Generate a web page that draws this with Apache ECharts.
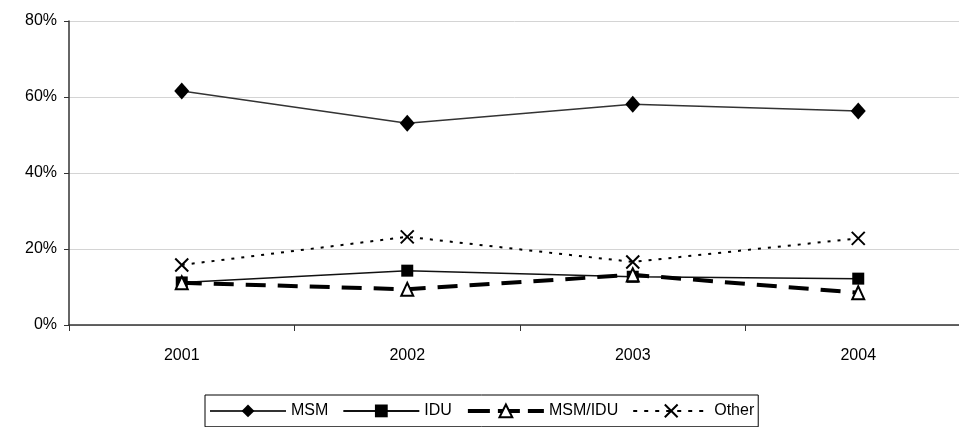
<!DOCTYPE html>
<html><head><meta charset="utf-8">
<script src="https://cdn.jsdelivr.net/npm/echarts@6/dist/echarts.min.js"></script>
<style>html,body{margin:0;padding:0;background:#fff;overflow:hidden}#c{width:959px;height:427px}</style>
</head><body><div id="c"></div>
<script>
var years = ['2001','2002','2003','2004'];
var msm = [61.6, 53.1, 58.1, 56.3];
var idu = [11.2, 14.3, 12.7, 12.2];
var msmIdu = [11.1, 9.4, 13.2, 8.5];
var other = [15.8, 23.2, 16.6, 22.8];
var yTicks = [0, 20, 40, 60, 80];

var font = 'Liberation Sans, Arial, sans-serif';
var chart = echarts.init(document.getElementById('c'), null, {renderer:'canvas'});
var xPath = 'path://M0,0L10,10M10,0L0,10';
chart.setOption({
  animation:false,
  textStyle:{fontFamily:font},
  grid:{left:69, top:21, width:902, height:304, containLabel:false, outerBoundsMode:'none'},
  legend:{
    left:205, top:395, itemWidth:76, itemHeight:16, itemGap:14,
    borderColor:'#000', borderWidth:1, padding:[7,4,7,4],
    textStyle:{fontFamily:font, fontSize:16, color:'#000'},
    data:[
      {name:'MSM'},
      {name:'IDU'},
      {name:'MSM/IDU', lineStyle:{width:4, type:[22,8], color:'#000'}},
      {name:'Other', lineStyle:{width:2, type:[4,7], color:'#000'}}
    ]
  },
  xAxis:{
    type:'category', data:years, boundaryGap:true,
    axisLine:{lineStyle:{color:'#333', width:1.5}},
    axisTick:{show:true, length:6, lineStyle:{color:'#333'}},
    axisLabel:{fontSize:16, color:'#000', margin:23, fontFamily:font}
  },
  yAxis:{
    type:'value', min:yTicks[0], max:yTicks[yTicks.length-1], interval:20,
    axisLine:{show:true, lineStyle:{color:'#333', width:1.5}},
    axisTick:{show:true, length:5, lineStyle:{color:'#333'}},
    axisLabel:{fontSize:16, color:'#000', margin:12, fontFamily:font, formatter:'{value}%'},
    splitLine:{lineStyle:{color:'#d4d4d4', width:1}}
  },
  series:[
    {name:'MSM', type:'line', data:msm, symbol:'diamond', symbolSize:[15,17],
     lineStyle:{color:'#333', width:1.5}, itemStyle:{color:'#000'}, z:4},
    {name:'IDU', type:'line', data:idu, symbol:'rect', symbolSize:12,
     lineStyle:{color:'#111', width:1.5}, itemStyle:{color:'#000'}, z:3},
    {name:'MSM/IDU', type:'line', data:msmIdu, symbol:'triangle', symbolSize:[12,13],
     lineStyle:{color:'#000', width:4, type:[20,12]}, itemStyle:{color:'#fff', borderColor:'#000', borderWidth:2}, z:5},
    {name:'Other', type:'line', data:other, symbol:xPath, symbolSize:13,
     lineStyle:{color:'#000', width:2, type:[3,7]}, itemStyle:{color:'none', borderColor:'#000', borderWidth:2}, z:2}
  ]
});
</script></body></html>
